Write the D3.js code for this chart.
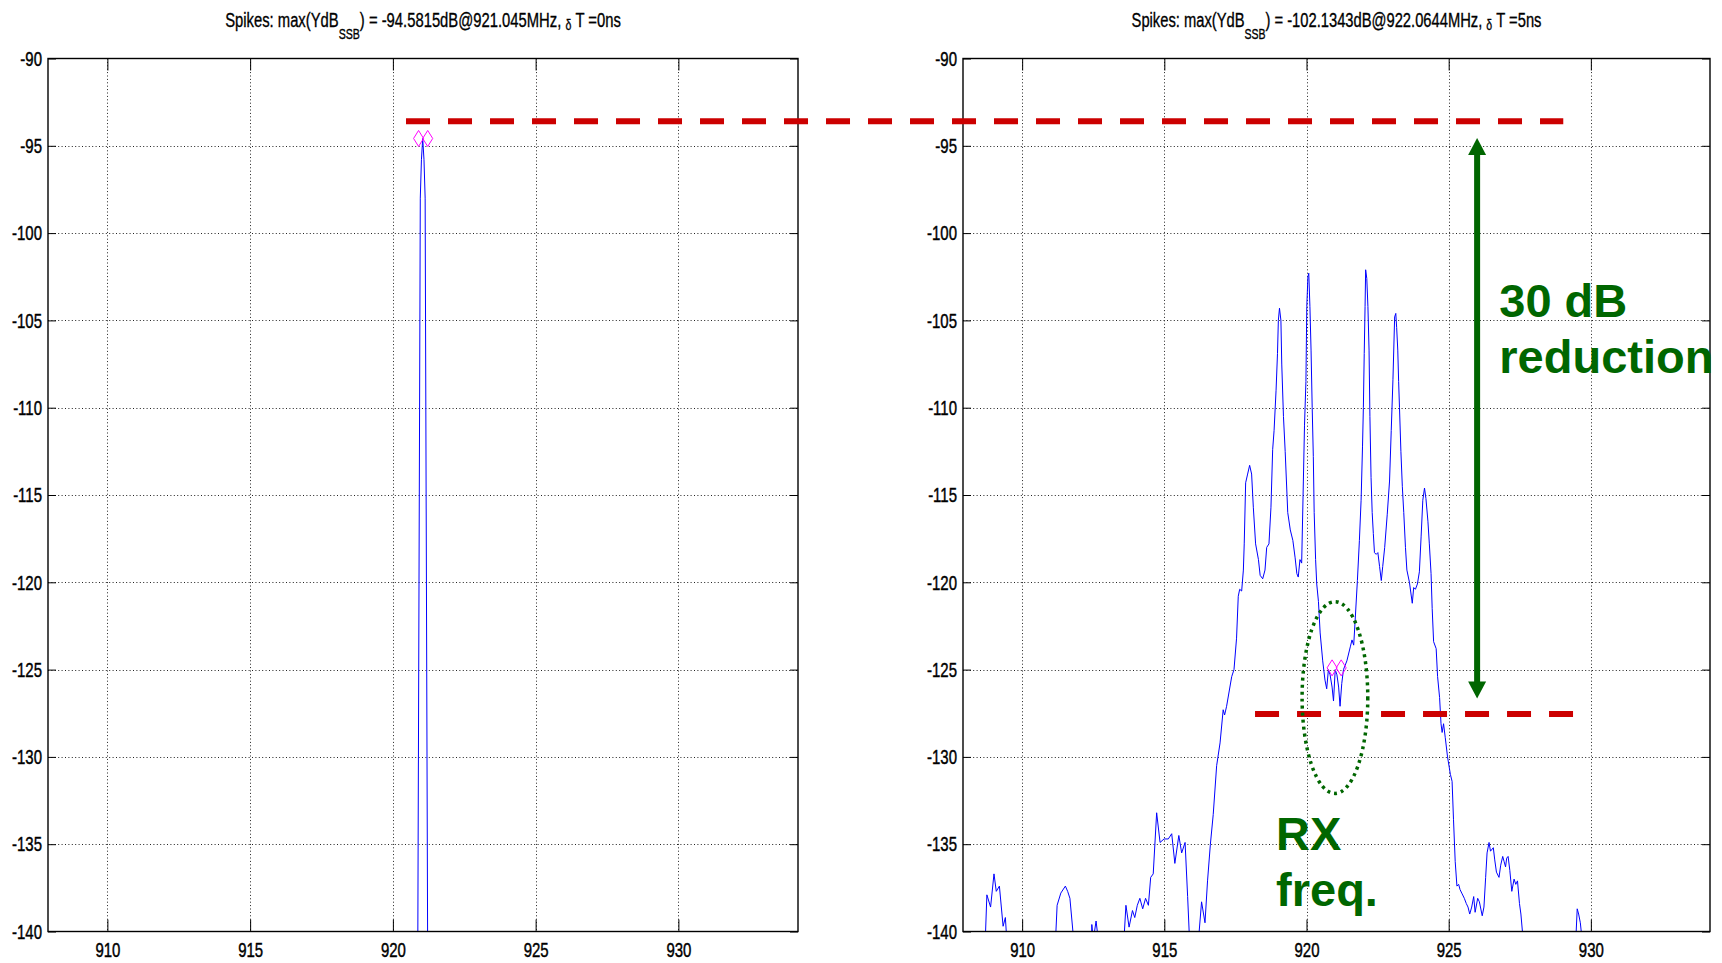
<!DOCTYPE html>
<html>
<head>
<meta charset="utf-8">
<script src="https://cdn.jsdelivr.net/npm/d3@7"></script>
<style>
  body { margin: 0; background: #fff; }
  svg { display: block; }
</style>
</head>
<body>
<div id="chart"></div>
<script>
// Axes
const freqDomain = [907.92, 934.19];
const levelDomain = [-140, -90];
const xTicks = [910, 915, 920, 925, 930];
const yTicks = [-90, -95, -100, -105, -110, -115, -120, -125, -130, -135, -140];

// Titles (plain part, subscript, rest, delta symbol, tail)
const titleLeft = ["Spikes: max(YdB", "SSB", ") = -94.5815dB@921.045MHz, ", "δ", " T =0ns"];
const titleRight = ["Spikes: max(YdB", "SSB", ") = -102.1343dB@922.0644MHz, ", "δ", " T =5ns"];

// Spectrum, dT = 0ns  [MHz, dB]
const leftSpectrum = [
  [907.92, -150], [920.86, -150], [920.87, -142], [920.96, -98], [921.0, -95.8],
  [921.045, -94.58], [921.09, -95.8], [921.13, -98], [921.22, -142], [921.23, -150],
  [934.19, -150]
];

// Spectrum, dT = 5ns  [MHz, dB]
const rightSpectrum = [
  [907.92, -150], [908.67, -142], [908.76, -137.9], [908.89, -138.6], [909.01, -136.7],
  [909.09, -137.7], [909.2, -137.4], [909.33, -139.7], [909.41, -139.2], [909.5, -141.5],
  [909.6, -150], [911.05, -150], [911.16, -141], [911.23, -138.5], [911.36, -137.8],
  [911.52, -137.4], [911.6, -137.7], [911.68, -138.1], [911.83, -140.8], [911.9, -150],
  [912.38, -150], [912.45, -139.6], [912.5, -140.5], [912.6, -139.4], [912.68, -140.5],
  [912.75, -150], [913.5, -150], [913.58, -140.5], [913.65, -138.5], [913.76, -139.75],
  [913.88, -138.8], [913.96, -139.2], [914.05, -138.5], [914.14, -138.1], [914.24, -138.7],
  [914.34, -138.1], [914.44, -138.5], [914.52, -136.9], [914.61, -136.7], [914.73, -133.2],
  [914.85, -134.9], [914.99, -134.7], [915.14, -134.7], [915.26, -134.4], [915.37, -136.1],
  [915.51, -134.5], [915.61, -135.5], [915.73, -134.9], [915.82, -138.0], [915.9, -141],
  [915.95, -150], [916.12, -150], [916.2, -140.5], [916.31, -138.3], [916.43, -139.5],
  [916.52, -137.1], [916.62, -135.0], [916.72, -133.3], [916.84, -130.5], [916.96, -129.2],
  [917.07, -127.3], [917.12, -127.6], [917.19, -127.1], [917.37, -125.4], [917.45, -125.0],
  [917.54, -123.2], [917.6, -120.8], [917.65, -120.4], [917.72, -120.5], [917.78, -119.3],
  [917.81, -117.8], [917.86, -114.3], [917.93, -113.8], [918.0, -113.3], [918.07, -113.8],
  [918.13, -115.7], [918.21, -117.8], [918.31, -118.7], [918.37, -119.6], [918.46, -119.8],
  [918.54, -119.3], [918.6, -118.0], [918.68, -117.8], [918.75, -115.7], [918.81, -112.4],
  [918.86, -111.3], [918.93, -109.0], [918.98, -106.9], [919.01, -105.0], [919.05, -104.3],
  [919.1, -105.0], [919.13, -107.5], [919.19, -110.5], [919.25, -112.5], [919.34, -116.0],
  [919.43, -117.0], [919.52, -117.6], [919.6, -118.6], [919.66, -119.5], [919.71, -119.7],
  [919.77, -118.7], [919.83, -118.9], [919.89, -114.2], [919.93, -111.0], [919.98, -108.5],
  [920.01, -104.2], [920.05, -102.5], [920.08, -102.3], [920.12, -104.2], [920.16, -106.7],
  [920.2, -110.0], [920.24, -112.8], [920.27, -116.0], [920.32, -118.7], [920.36, -120.1],
  [920.42, -121.1], [920.48, -122.9], [920.57, -124.5], [920.65, -125.6], [920.71, -126.1],
  [920.77, -125.0], [920.83, -125.3], [920.9, -126.0], [920.95, -126.8], [921.01, -125.0],
  [921.07, -125.3], [921.13, -126.0], [921.18, -127.1], [921.24, -125.8], [921.3, -125.0],
  [921.42, -124.5], [921.54, -123.7], [921.6, -123.3], [921.66, -123.6], [921.71, -122.2],
  [921.79, -119.9], [921.86, -117.6], [921.92, -115.3], [921.97, -112.2], [922.0, -110.0],
  [922.03, -106.9], [922.06, -104.2], [922.08, -102.1], [922.12, -102.6], [922.16, -104.2],
  [922.2, -106.7], [922.23, -110.5], [922.27, -114.0], [922.31, -116.0], [922.35, -117.2],
  [922.39, -118.3], [922.45, -118.4], [922.51, -118.3], [922.57, -119.1], [922.63, -119.9],
  [922.68, -119.1], [922.75, -118.0], [922.84, -116.1], [922.92, -114.2], [922.98, -111.3],
  [923.04, -108.4], [923.1, -104.8], [923.14, -104.6], [923.17, -105.4], [923.21, -106.7],
  [923.24, -108.5], [923.27, -110.0], [923.32, -112.5], [923.37, -114.5], [923.42, -116.0],
  [923.48, -118.0], [923.53, -119.3], [923.62, -120.0], [923.72, -121.2], [923.77, -120.3],
  [923.83, -120.4], [923.9, -120.1], [923.97, -119.4], [924.03, -117.4], [924.09, -115.3],
  [924.15, -114.6], [924.2, -115.2], [924.27, -116.5], [924.32, -117.8], [924.38, -119.5],
  [924.42, -121.5], [924.47, -123.4], [924.56, -123.8], [924.61, -125.4], [924.68, -126.6],
  [924.73, -128.1], [924.77, -128.6], [924.82, -128.1], [924.88, -128.9], [924.96, -130.0],
  [925.06, -131.0], [925.12, -131.4], [925.17, -133.6], [925.23, -136.0], [925.29, -137.4],
  [925.35, -137.3], [925.4, -137.6], [925.46, -137.8], [925.55, -138.1], [925.62, -138.4],
  [925.68, -138.6], [925.74, -139.0], [925.81, -138.6], [925.88, -138.0], [925.93, -138.9],
  [926.02, -138.1], [926.08, -138.3], [926.18, -139.1], [926.24, -138.6], [926.3, -136.9],
  [926.35, -135.5], [926.42, -134.9], [926.47, -135.4], [926.57, -135.2], [926.62, -135.9],
  [926.68, -136.6], [926.77, -136.9], [926.83, -136.2], [926.9, -135.7], [926.95, -136.0],
  [927.0, -136.3], [927.04, -135.8], [927.09, -135.7], [927.15, -136.5], [927.22, -137.7],
  [927.3, -137.0], [927.36, -137.3], [927.42, -137.1], [927.49, -138.4], [927.54, -139.0],
  [927.62, -140.5], [927.7, -150], [929.4, -150], [929.47, -140.5], [929.52, -138.7],
  [929.57, -139.0], [929.63, -139.5], [929.7, -140.6], [929.78, -150], [934.19, -150]
];

// RX band edge markers
const markerFreqs = [920.9, 921.22];
const markerLevels = [-94.58, -124.9];

// Annotations (data units)
const topRef = { level: -93.6, fromFreq: 920.46, toFreq: 929.03 };
const lowRef = { level: -127.55, fromFreq: 918.19, toFreq: 929.39 };
const arrowSpan = { freq: 926.0, from: -94.56, to: -126.65 };
const rxEllipse = { freq: 921.0, level: -126.6, dFreq: 1.155, dLevel: 5.49 };
const noteReduction = ["30 dB", "reduction"];
const noteRx = ["RX", "freq."];

const width = 1722;
const height = 963;
const plotTop = 58.5;
const plotBottom = 931.5;
const green = "#006600";
const red = "#cc0000";

const svg = d3
  .select("#chart")
  .append("svg")
  .attr("width", width)
  .attr("height", height)
  .style("font-family", "'Liberation Sans', Arial, Helvetica, sans-serif");

// medir texto para comprimir como a fonte do MATLAB
function textWidth(parts, size) {
  const t = svg.append("text").attr("font-size", size);
  parts.forEach((p) => t.append("tspan").text(p));
  const w = t.node().getBBox().width;
  t.remove();
  return w;
}
const tickSquash = 25 / textWidth(["910"], 21);

function drawPanel(box, title, data, markerLevel, clipId) {
  const x = d3.scaleLinear().domain(freqDomain).range([box.left, box.right]);
  const y = d3.scaleLinear().domain(levelDomain).range([plotBottom, plotTop]);

  const g = svg.append("g");

  g.append("rect")
    .attr("x", box.left)
    .attr("y", plotTop)
    .attr("width", box.right - box.left)
    .attr("height", plotBottom - plotTop)
    .attr("fill", "#fff");

  // grade pontilhada
  g.append("g")
    .selectAll("line")
    .data(xTicks)
    .join("line")
    .attr("x1", (d) => Math.round(x(d)) + 0.5)
    .attr("x2", (d) => Math.round(x(d)) + 0.5)
    .attr("y1", plotTop)
    .attr("y2", plotBottom)
    .attr("stroke", "#222")
    .attr("stroke-dasharray", "1,2.4");

  g.append("g")
    .selectAll("line")
    .data(yTicks.slice(1, -1))
    .join("line")
    .attr("x1", box.left)
    .attr("x2", box.right)
    .attr("y1", (d) => Math.round(y(d)) + 0.5)
    .attr("y2", (d) => Math.round(y(d)) + 0.5)
    .attr("stroke", "#222")
    .attr("stroke-dasharray", "1,2.4");

  svg
    .append("clipPath")
    .attr("id", clipId)
    .append("rect")
    .attr("x", box.left)
    .attr("y", plotTop)
    .attr("width", box.right - box.left)
    .attr("height", plotBottom - plotTop);

  const line = d3
    .line()
    .x((d) => x(d[0]))
    .y((d) => y(d[1]));

  g.append("path")
    .datum(data)
    .attr("clip-path", `url(#${clipId})`)
    .attr("d", line)
    .attr("fill", "none")
    .attr("stroke", "#0000ff")
    .attr("stroke-width", 1);

  // marcadores losango
  g.append("g")
    .selectAll("path")
    .data(markerFreqs)
    .join("path")
    .attr("transform", (d) => `translate(${x(d)},${y(markerLevel)})`)
    .attr("d", "M0,-8L5,0L0,8L-5,0Z")
    .attr("fill", "none")
    .attr("stroke", "#ff00ff")
    .attr("stroke-width", 1);

  // eixos com marcas para dentro
  const styleAxis = (sel) => {
    sel.select(".domain").remove();
    sel.selectAll("line").attr("stroke", "#000");
    sel.attr("font-size", 21).attr("font-family", null).attr("fill", "#000");
  };

  g.append("g")
    .attr("transform", `translate(0,${plotBottom})`)
    .call(d3.axisBottom(x).tickValues(xTicks).tickSize(-12).tickPadding(11).tickFormat((d) => String(d)))
    .call(styleAxis)
    .selectAll("text")
    .attr("fill", "#000")
    .attr("stroke", "#000")
    .attr("stroke-width", 0.45)
    .attr("transform", `scale(${tickSquash},1)`);

  g.append("g")
    .attr("transform", `translate(0,${plotTop})`)
    .call(d3.axisTop(x).tickValues(xTicks).tickSize(-12).tickFormat(""))
    .call(styleAxis);

  g.append("g")
    .attr("transform", `translate(${box.left},0)`)
    .call(d3.axisLeft(y).tickValues(yTicks).tickSize(-8).tickPadding(6).tickFormat((d) => String(d)))
    .call(styleAxis)
    .selectAll("text")
    .attr("fill", "#000")
    .attr("stroke", "#000")
    .attr("stroke-width", 0.45)
    .attr("x", -6 / tickSquash)
    .attr("transform", `scale(${tickSquash},1)`);

  g.append("g")
    .attr("transform", `translate(${box.right},0)`)
    .call(d3.axisRight(y).tickValues(yTicks).tickSize(-8).tickFormat(""))
    .call(styleAxis);

  g.append("rect")
    .attr("x", box.left)
    .attr("y", plotTop)
    .attr("width", box.right - box.left)
    .attr("height", plotBottom - plotTop)
    .attr("fill", "none")
    .attr("stroke", "#000")
    .attr("stroke-width", 1.4);

  // titulo
  const cx = (box.left + box.right) / 2;
  const squash = box.titleWidth / textWidth(title, 21);
  const t = svg
    .append("text")
    .attr("transform", `translate(${cx},27.3) scale(${squash},1)`)
    .attr("text-anchor", "middle")
    .attr("font-size", 21)
    .attr("fill", "#000")
    .attr("stroke", "#000")
    .attr("stroke-width", 0.35);
  t.append("tspan").text(title[0]);
  t.append("tspan").attr("font-size", 15).attr("dy", 12).text(title[1]);
  t.append("tspan").attr("dy", -12).text(title[2]);
  t.append("tspan").attr("font-size", 15).attr("dy", 3).text(title[3]);
  t.append("tspan").attr("dy", -3).text(title[4]);

  return { x, y };
}

const left = drawPanel({ left: 48, right: 798, titleWidth: 407 }, titleLeft, leftSpectrum, markerLevels[0], "clipL");
const right = drawPanel({ left: 963, right: 1710, titleWidth: 421 }, titleRight, rightSpectrum, markerLevels[1], "clipR");

// linhas vermelhas de referencia
const ann = svg.append("g");

ann.append("line")
  .attr("x1", left.x(topRef.fromFreq))
  .attr("x2", right.x(topRef.toFreq))
  .attr("y1", right.y(topRef.level))
  .attr("y2", right.y(topRef.level))
  .attr("stroke", red)
  .attr("stroke-width", 6)
  .attr("stroke-dasharray", "24,18");

ann.append("line")
  .attr("x1", right.x(lowRef.fromFreq))
  .attr("x2", right.x(lowRef.toFreq))
  .attr("y1", right.y(lowRef.level))
  .attr("y2", right.y(lowRef.level))
  .attr("stroke", red)
  .attr("stroke-width", 6)
  .attr("stroke-dasharray", "24,18");

// elipse pontilhada
ann.append("ellipse")
  .attr("cx", right.x(rxEllipse.freq))
  .attr("cy", right.y(rxEllipse.level))
  .attr("rx", right.x(rxEllipse.freq + rxEllipse.dFreq) - right.x(rxEllipse.freq))
  .attr("ry", right.y(rxEllipse.level - rxEllipse.dLevel) - right.y(rxEllipse.level))
  .attr("fill", "none")
  .attr("stroke", green)
  .attr("stroke-width", 3.5)
  .attr("stroke-dasharray", "3,4");

// seta dupla
const ax = right.x(arrowSpan.freq);
const ay1 = right.y(arrowSpan.from);
const ay2 = right.y(arrowSpan.to);
const head = 17;
ann.append("line")
  .attr("x1", ax)
  .attr("x2", ax)
  .attr("y1", ay1 + head - 2)
  .attr("y2", ay2 - head + 2)
  .attr("stroke", green)
  .attr("stroke-width", 6);
ann.append("path")
  .attr("d", `M${ax},${ay1}L${ax + 9},${ay1 + head}L${ax - 9},${ay1 + head}Z`)
  .attr("fill", green);
ann.append("path")
  .attr("d", `M${ax},${ay2}L${ax + 9},${ay2 - head}L${ax - 9},${ay2 - head}Z`)
  .attr("fill", green);

// textos verdes
const bigText = (lines, freq, level) => {
  const t = ann.append("text")
    .attr("x", right.x(freq))
    .attr("y", right.y(level))
    .attr("font-size", 47)
    .attr("font-weight", "bold")
    .attr("fill", green);
  lines.forEach((s, i) =>
    t.append("tspan").attr("x", right.x(freq)).attr("dy", i === 0 ? 0 : 56).text(s)
  );
};
bigText(noteReduction, 926.78, -104.8);
bigText(noteRx, 918.93, -135.36);
</script>
</body>
</html>
